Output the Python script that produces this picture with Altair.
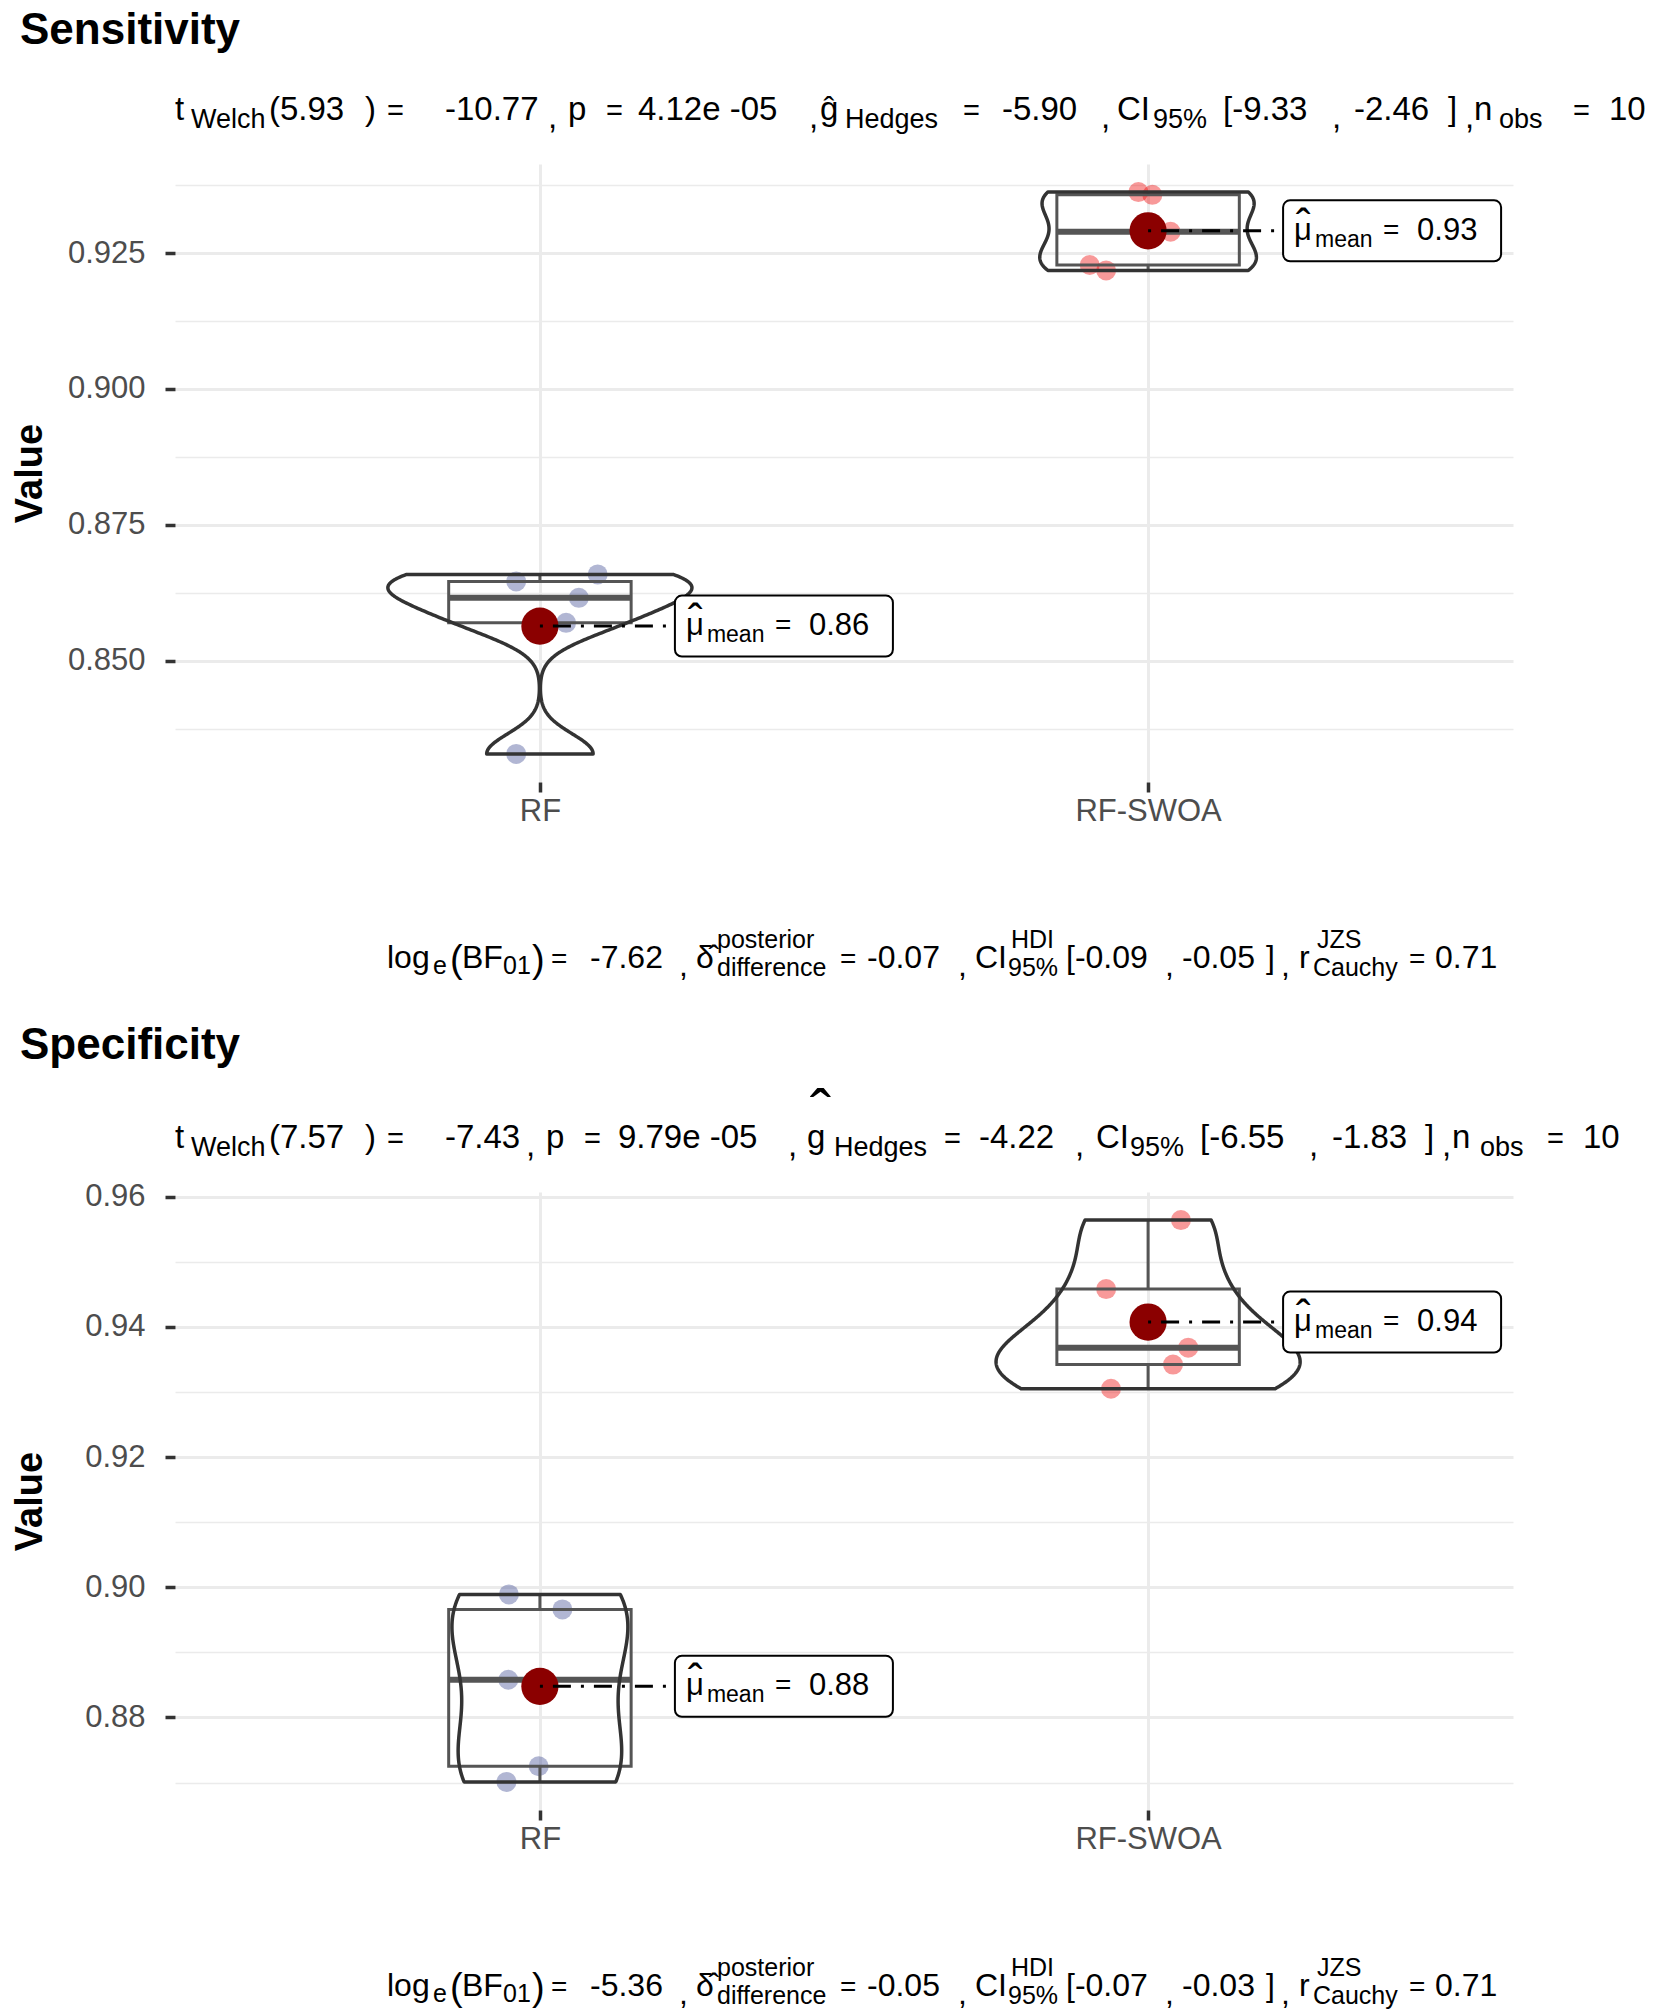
import json
import altair as alt
import numpy as np
import pandas as pd

# ---------------- data ----------------
GROUPS = ["RF", "RF-SWOA"]
COLORS = ["#3B4992", "#EE0000"]

SENS_RF = [0.8646, 0.8659, 0.8616, 0.8570, 0.8329]
SENS_RF_JIT = [-0.039, 0.095, 0.064, 0.043, -0.039]
SENS_SWOA = [0.9362, 0.9357, 0.9228, 0.9218, 0.9289]
SENS_SWOA_JIT = [-0.016, 0.007, -0.096, -0.069, 0.037]

SPEC_RF = [0.8989, 0.8966, 0.8858, 0.8725, 0.8701]
SPEC_RF_JIT = [-0.051, 0.037, -0.052, -0.002, -0.055]
SPEC_SWOA = [0.9564, 0.9458, 0.9368, 0.9342, 0.9305]
SPEC_SWOA_JIT = [0.054, -0.069, 0.066, 0.041, -0.061]

SENS_TICKS = [0.850, 0.875, 0.900, 0.925]
SENS_MINOR = [0.8375, 0.8625, 0.8875, 0.9125, 0.9375]
SPEC_TICKS = [0.88, 0.90, 0.92, 0.94, 0.96]
SPEC_MINOR = [0.87, 0.89, 0.91, 0.93, 0.95]

SENS_TEST = ["5.93", "-10.77", "4.12e -05", "-5.90", "-9.33", "-2.46", "10"]
SENS_BAYES = ["-7.62", "-0.07", "-0.09", "-0.05", "0.71"]
SPEC_TEST = ["7.57", "-7.43", "9.79e -05", "-4.22", "-6.55", "-1.83", "10"]
SPEC_BAYES = ["-5.36", "-0.05", "-0.07", "-0.03", "0.71"]

# ---------------- layout / style ----------------
FONT = "Liberation Sans"
W, H = 1338, 618
BOX_HALF = 0.15
VIOLIN_HALF = 0.25

SUB_STYLE = {"m": (33, 0), "s": (27, 8), "c": (33, 8), "e": (29, 0)}
CAP_STYLE = {"m": (32, 0), "s": (25, 8), "se": (25, 6), "sup": (25, -20),
             "c": (32, 8), "e": (28, 0), "p": (38, 4)}

SUB_X_TOP = [0, 16, 94, 190, 212, 270, 373, 393, 431, 463, 634, 645, 670, 788, 827,
             926, 942, 978, 1048, 1157, 1179, 1273, 1290, 1299, 1324, 1398, 1434]
SUB_X_BOT = [0, 16, 94, 190, 212, 270, 351, 371, 409, 443, 613, 632, 659, 769, 804,
             900, 921, 955, 1025, 1134, 1157, 1250, 1267, 1277, 1305, 1372, 1408]
CAP_X = [212, 258, 275, 287, 328, 357, 376, 415, 504, 521, 542, 542, 665, 692, 783,
         800, 836, 833, 891, 990, 1007, 1091, 1106, 1124, 1142, 1138, 1234, 1260]


def nrd0(v):
    v = np.asarray(v, float)
    sd = v.std(ddof=1)
    q75, q25 = np.percentile(v, [75, 25])
    lo = min(sd, (q75 - q25) / 1.34)
    return 0.9 * lo * len(v) ** -0.2


def kde_peak(v, bw):
    v = np.asarray(v, float)
    g = np.linspace(v.min(), v.max(), 512)
    d = np.exp(-0.5 * ((g[:, None] - v[None, :]) / bw) ** 2).sum(1) / (len(v) * bw * np.sqrt(2 * np.pi))
    return d.max()


def txt(s, x, y, size, weight="normal", align="left", baseline="alphabetic"):
    return alt.Chart(alt.Data(values=[{"k": 0}])).mark_text(
        text=s, font=FONT, fontSize=size, fontWeight=weight, align=align,
        baseline=baseline, color="black"
    ).encode(x=alt.value(x), y=alt.value(y))


def segs(texts, styles, xs, base, style):
    return [txt(t, x, base + style[s][1], style[s][0]) for t, s, x in zip(texts, styles, xs)]


def panel(name, rf, rfj, sw, swj, major, minor, fmt, test, bayes, sub_x, title_base, high_hat):
    vals = rf + sw
    df = pd.DataFrame({
        "group": [GROUPS[0]] * len(rf) + [GROUPS[1]] * len(sw),
        "pos": [1] * len(rf) + [2] * len(sw),
        "value": vals,
        "jit": rfj + swj,
    })
    lo, hi = min(vals), max(vals)
    pad = 0.05 * (hi - lo)
    xsc = alt.Scale(domain=[0.4, 2.6], nice=False, zero=False)
    ysc = alt.Scale(domain=[lo - pad, hi + pad], nice=False, zero=False)
    tst = f"indexof({json.dumps(major)}, datum.value) >= 0"
    lab_expr = " : ".join(f"datum.value == {i + 1} ? '{g}'" for i, g in enumerate(GROUPS)) + " : ''"
    xaxis = alt.Axis(values=[1, 2], labelExpr=lab_expr, title=None, grid=True,
                     gridColor="#EBEBEB", gridWidth=3, domain=False, tickColor="#333333",
                     tickWidth=3.5, tickSize=10, labelFont=FONT, labelFontSize=31,
                     labelColor="#4D4D4D", labelPadding=4, labelFlush=False, labelOverlap=False)
    yaxis = alt.Axis(values=sorted(major + minor),
                     labelExpr=f"{tst} ? format(datum.value, '{fmt}') : ''",
                     gridColor="#EBEBEB",
                     gridWidth={"condition": {"test": tst, "value": 3}, "value": 1.5},
                     tickOpacity={"condition": {"test": tst, "value": 1}, "value": 0},
                     domain=False, tickColor="#333333", tickWidth=3.5, tickSize=10,
                     labelFont=FONT, labelFontSize=31, labelColor="#4D4D4D", labelPadding=20,
                     labelFlush=False, labelOverlap=False,
                     title="Value", titleFont=FONT, titleFontSize=38, titleFontWeight="bold",
                     titleColor="black", titleX=-145, titleY=H / 2, titleBaseline="middle",
                     titleAngle=270)

    def X(f):
        return alt.X(f, scale=xsc, axis=xaxis)

    def Y(f):
        return alt.Y(f, scale=ysc, axis=yaxis)

    base = alt.Chart(df)
    points = base.transform_calculate(px="datum.pos + datum.jit").mark_circle(
        size=400, opacity=0.4).encode(
        x=X("px:Q"), y=Y("value:Q"),
        color=alt.Color("group:N", scale=alt.Scale(domain=GROUPS, range=COLORS), legend=None))

    box = base.transform_aggregate(
        q1="q1(value)", q3="q3(value)", med="median(value)", groupby=["group", "pos"]
    ).transform_calculate(bl=f"datum.pos - {BOX_HALF}", br=f"datum.pos + {BOX_HALF}")
    box_rect = box.mark_rect(fillOpacity=0, stroke="#555555", strokeWidth=3).encode(
        x=X("bl:Q"), x2="br:Q", y=Y("q1:Q"), y2="q3:Q")
    box_med = box.mark_rule(color="#555555", strokeWidth=6).encode(
        x=X("bl:Q"), x2="br:Q", y=Y("med:Q"))

    wh = base.transform_joinaggregate(
        q1="q1(value)", q3="q3(value)", groupby=["group"]
    ).transform_calculate(
        lof="datum.q1 - 1.5*(datum.q3-datum.q1)", hif="datum.q3 + 1.5*(datum.q3-datum.q1)"
    ).transform_filter("datum.value >= datum.lof && datum.value <= datum.hif"
    ).transform_aggregate(wlo="min(value)", whi="max(value)", q1="max(q1)", q3="max(q3)",
                          groupby=["group", "pos"])
    wh_up = wh.mark_rule(color="#555555", strokeWidth=3).encode(x=X("pos:Q"), y=Y("q3:Q"), y2="whi:Q")
    wh_dn = wh.mark_rule(color="#555555", strokeWidth=3).encode(x=X("pos:Q"), y=Y("wlo:Q"), y2="q1:Q")

    bws = [nrd0(v) for v in (rf, sw)]
    k = VIOLIN_HALF / max(kde_peak(v, b) for v, b in zip((rf, sw), bws))
    violins = []
    for i, (g, v) in enumerate(zip(GROUPS, (rf, sw))):
        p = i + 1
        violins.append(
            base.transform_filter(alt.datum.group == g).transform_density(
                "value", as_=["value", "density"], bandwidth=float(bws[i]),
                extent=[min(v), max(v)], steps=200
            ).transform_calculate(
                xl=f"{p} - datum.density*{k}", xr=f"{p} + datum.density*{k}"
            ).mark_area(orient="horizontal", fillOpacity=0, stroke="#333333",
                        strokeWidth=3.5, strokeJoin="round").encode(
                y=Y("value:Q"), x=X("xl:Q"), x2="xr:Q"))

    mean = base.transform_aggregate(m="mean(value)", groupby=["group", "pos"])
    mean_pt = mean.mark_circle(size=1385, color="#8B0000", opacity=1).encode(x=X("pos:Q"), y=Y("m:Q"))
    mean_line = mean.mark_rule(color="black", strokeWidth=3, strokeDash=[3, 10, 18, 10],
                               x2Offset=135).encode(x=X("pos:Q"), x2="pos:Q", y=Y("m:Q"))
    lab_box = mean.mark_rect(xOffset=135, x2Offset=353, yOffset=-30.5, y2Offset=30.5,
                             fill="white", stroke="black", strokeWidth=2, cornerRadius=7).encode(
        x=X("pos:Q"), x2="pos:Q", y=Y("m:Q"), y2="m:Q")

    def lab(text, dx, dy, size, enc_text=None):
        m = mean.mark_text(dx=dx, dy=dy, align="left", baseline="middle", fontSize=size,
                           font=FONT, color="black", **({"text": text} if text else {}))
        e = dict(x=X("pos:Q"), y=Y("m:Q"))
        if enc_text is not None:
            e["text"] = enc_text
        return m.encode(**e)

    lab_mu = lab("\u03bc", 146, 0, 31)
    lab_hat = lab("\u02c6", 148, -4, 44)
    lab_mean = lab("mean", 167, 9, 23)
    lab_eq = lab("=", 235, 0, 28)
    lab_val = lab(None, 269, 0, 31, alt.Text("m:Q", format=".2f"))

    # annotation text
    ann = [txt(name, -155, title_base, 44, weight="bold")]
    g_txt = "g" if high_hat else "\u011d"
    sub_t = ["t", "Welch", "(" + test[0], ")", "=", test[1], ",", "p", "=", test[2], ",",
             g_txt, "Hedges", "=", test[3], ",", "CI", "95%", "[" + test[4], ",", test[5], "]",
             ",", "n", "obs", "=", test[6]]
    sub_s = ["m", "s", "m", "m", "e", "m", "c", "m", "e", "m", "c", "m", "s", "e", "m", "c",
             "m", "s", "m", "c", "m", "m", "c", "m", "s", "e", "m"]
    ann += segs(sub_t, sub_s, sub_x, -44, SUB_STYLE)
    if high_hat:
        ann.append(txt("\u02c6", sub_x[11] + 3, -57, 64))
    cap_t = ["log", "e", "(", "BF", "01", ")", "=", bayes[0], ",", "\u03b4\u0302", "posterior",
             "difference", "=", bayes[1], ",", "CI", "HDI", "95%", "[" + bayes[2], ",", bayes[3],
             "]", ",", "r", "JZS", "Cauchy", "=", bayes[4]]
    cap_s = ["m", "se", "p", "m", "se", "p", "e", "m", "c", "m", "sup", "s", "e", "m", "c", "m",
             "sup", "s", "m", "c", "m", "m", "c", "m", "sup", "s", "e", "m"]
    ann += segs(cap_t, cap_s, CAP_X, 804, CAP_STYLE)

    return alt.layer(points, box_rect, box_med, wh_up, wh_dn, *violins, mean_pt, mean_line,
                     lab_box, lab_mu, lab_hat, lab_mean, lab_eq, lab_val, *ann
                     ).properties(width=W, height=H)


top = panel("Sensitivity", SENS_RF, SENS_RF_JIT, SENS_SWOA, SENS_SWOA_JIT,
            SENS_TICKS, SENS_MINOR, ".3f", SENS_TEST, SENS_BAYES, SUB_X_TOP, -120, False)
bottom = panel("Specificity", SPEC_RF, SPEC_RF_JIT, SPEC_SWOA, SPEC_SWOA_JIT,
               SPEC_TICKS, SPEC_MINOR, ".2f", SPEC_TEST, SPEC_BAYES, SUB_X_BOT, -133, True)

chart = alt.vconcat(top, bottom, spacing=42).properties(
    padding={"left": 3, "top": 1, "right": 0, "bottom": 0}
).configure_view(stroke=None)

chart.save("out.html", embed_options={"renderer": "svg", "actions": False})
